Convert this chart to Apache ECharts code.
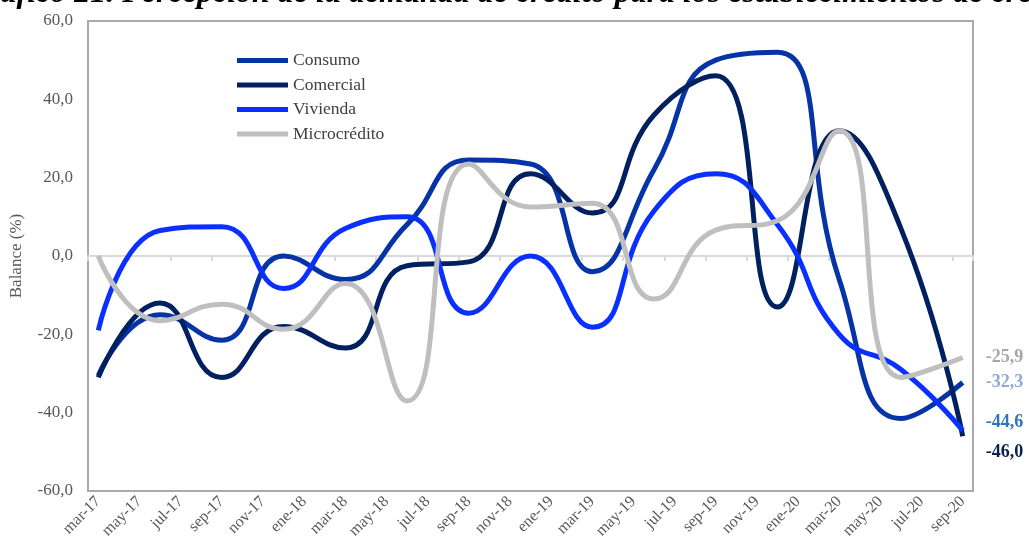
<!DOCTYPE html>
<html>
<head>
<meta charset="utf-8">
<script src="https://cdn.jsdelivr.net/npm/echarts@6/dist/echarts.min.js"></script>
<style>
  html, body { margin: 0; padding: 0; background: #ffffff; }
  #chart { width: 1029px; height: 552px; }
</style>
</head>
<body>
<div id="chart"></div>
<script>
// Monthly category axis, mar-17 .. sep-20
const months = [
  'mar-17','abr-17','may-17','jun-17','jul-17','ago-17','sep-17','oct-17','nov-17','dic-17',
  'ene-18','feb-18','mar-18','abr-18','may-18','jun-18','jul-18','ago-18','sep-18','oct-18','nov-18','dic-18',
  'ene-19','feb-19','mar-19','abr-19','may-19','jun-19','jul-19','ago-19','sep-19','oct-19','nov-19','dic-19',
  'ene-20','feb-20','mar-20','abr-20','may-20','jun-20','jul-20','ago-20','sep-20'
];

// Quarterly survey results (balance, %): mar-17, jun-17, ..., sep-20
const quarters = ['mar-17','jun-17','sep-17','dic-17','mar-18','jun-18','sep-18','dic-18',
                  'mar-19','jun-19','sep-19','dic-19','mar-20','jun-20','sep-20'];
const consumo      = [-30.5, -15.0, -21.5,   0.0,  -6.0,   8.0,  24.5,  23.5,  -4.0,  22.0,  50.0,  52.0,  -6.0, -41.5, -32.3];
const comercial    = [-31.0, -12.0, -31.0, -18.0, -23.5,  -2.5,  -1.5,  21.0,  11.0,  36.0,  46.0, -13.0,  32.0,   7.0, -46.0];
const vivienda     = [-19.0,   6.5,   7.5,  -8.3,   7.0,  10.0, -14.6,   0.0, -18.2,  11.5,  21.0,   8.0, -20.0, -29.0, -44.6];
const microcredito = [  0.0, -16.5, -12.3, -18.7,  -7.0, -37.0,  23.5,  12.5,  13.5, -11.0,   6.6,   9.0,  32.0, -31.0, -25.9];

const yTicks = { min: -60, max: 60, step: 20 };

const serif = 'Liberation Serif, Times New Roman, serif';

// place each quarterly value on its month of the monthly axis
function toMonthly(values) {
  const out = months.map(() => null);
  quarters.forEach((q, k) => { out[months.indexOf(q)] = values[k]; });
  return out;
}
const fmt = v => v.toFixed(1).replace('.', ',');

function lineSeries(name, values, color, labelColor, labelOffset) {
  return {
    name: name,
    type: 'line',
    data: toMonthly(values),
    connectNulls: true,
    smooth: 0.5,
    showSymbol: false,
    symbol: 'none',
    xAxisIndex: 0,
    lineStyle: { color: color, width: 5 },
    itemStyle: { color: color },
    emphasis: { disabled: true },
    endLabel: {
      show: true,
      formatter: p => fmt(p.value),
      color: labelColor,
      fontFamily: serif,
      fontWeight: 'bold',
      fontSize: 18,
      distance: 23,
      offset: labelOffset
    }
  };
}

const chart = echarts.init(document.getElementById('chart'), null, { renderer: 'canvas' });
chart.setOption({
  animation: false,
  backgroundColor: '#ffffff',
  graphic: [{
    type: 'text',
    x: -35,
    y: -6,
    style: {
      text: 'Gráfico 21. Percepción de la demanda de crédito para los establecimientos de crédito',
      font: 'italic bold 32px ' + serif,
      fill: '#000000',
      align: 'left',
      verticalAlign: 'middle'
    }
  }],
  grid: {
    left: 88, right: 56, top: 21, bottom: 61,
    show: true,
    borderColor: '#a9a9a9',
    borderWidth: 2,
    backgroundColor: 'transparent'
  },
  legend: {
    left: 232,
    top: 46,
    orient: 'vertical',
    icon: 'rect',
    itemWidth: 51,
    itemHeight: 5,
    itemGap: 5.5,
    textStyle: { fontFamily: serif, fontSize: 17.5, color: '#404040', lineHeight: 19 },
    data: ['Consumo', 'Comercial', 'Vivienda', 'Microcrédito']
  },
  xAxis: [{
    type: 'category',
    data: months,
    boundaryGap: true,
    position: 'bottom',
    axisLine: { show: false, onZero: false },
    axisTick: { show: false },
    axisLabel: {
      interval: 1,
      rotate: 45,
      margin: 8,
      fontFamily: serif,
      fontSize: 16,
      color: '#595959'
    }
  }, {
    // zero line with its tick marks
    type: 'category',
    data: months,
    boundaryGap: true,
    position: 'top',
    axisLine: { show: true, onZero: true, onZeroAxisIndex: 0, lineStyle: { color: '#d9d9d9', width: 2 } },
    axisTick: { show: true, inside: true, interval: 1, length: 5, lineStyle: { color: '#d9d9d9', width: 2 } },
    axisLabel: { show: false }
  }],
  yAxis: {
    type: 'value',
    min: yTicks.min,
    max: yTicks.max,
    interval: yTicks.step,
    name: 'Balance (%)',
    nameLocation: 'middle',
    nameGap: 63,
    nameTextStyle: { fontFamily: serif, fontSize: 17, color: '#595959' },
    axisLine: { show: false },
    axisTick: { show: false },
    splitLine: { show: false },
    axisLabel: {
      formatter: v => fmt(v),
      fontFamily: serif,
      fontSize: 17,
      color: '#595959',
      margin: 15
    }
  },
  series: [
    lineSeries('Consumo', consumo, '#0634a6', '#8eaadb', [0, 0]),
    lineSeries('Comercial', comercial, '#002060', '#0b2150', [0, 16]),
    lineSeries('Vivienda', vivienda, '#0a30ff', '#2e75b6', [0, -8]),
    lineSeries('Microcrédito', microcredito, '#bfbfbf', '#a6a6a6', [0, 0])
  ]
});
</script>
</body>
</html>
